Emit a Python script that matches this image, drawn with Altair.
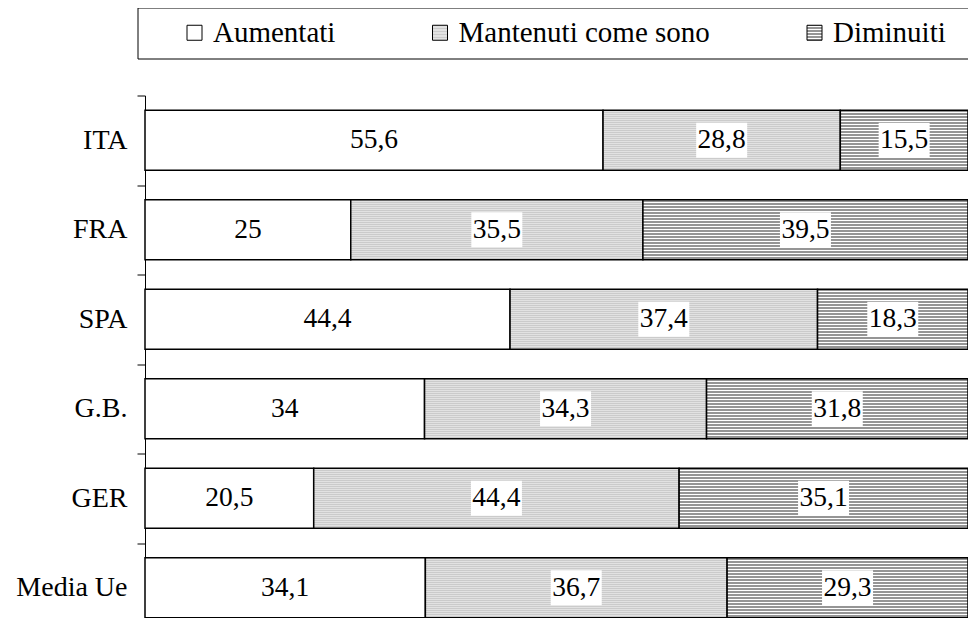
import altair as alt
import pandas as pd

countries = ["ITA", "FRA", "SPA", "G.B.", "GER", "Media Ue"]
categories = ["Aumentati", "Mantenuti come sono", "Diminuiti"]
aumentati = [55.6, 25, 44.4, 34, 20.5, 34.1]
mantenuti = [28.8, 35.5, 37.4, 34.3, 44.4, 36.7]
diminuiti = [15.5, 39.5, 18.3, 31.8, 35.1, 29.3]

rows = []
for i, c in enumerate(countries):
    for j, (cat, vals) in enumerate(zip(categories, [aumentati, mantenuti, diminuiti])):
        v = vals[i]
        rows.append({"paese": c, "risposta": cat, "ord": j, "valore": v,
                     "etichetta": f"{v:g}".replace(".", ",")})
df = pd.DataFrame(rows)


def stripes(periods, frac, c1, c2):
    stops = []
    for k in range(periods):
        a = k / periods
        b = (k + frac) / periods
        e = (k + 1) / periods
        stops += [f"{{offset:{a:.5f},color:'{c1}'}}", f"{{offset:{b:.5f},color:'{c1}'}}",
                  f"{{offset:{b:.5f},color:'{c2}'}}", f"{{offset:{e:.5f},color:'{c2}'}}"]
    return alt.ExprRef("{gradient:'linear',x1:0,y1:0,x2:0,y2:1,stops:[" + ",".join(stops) + "]}")


fill_range = ["#ffffff", stripes(30, 0.5, "#cbcbcb", "#e2e2e2"), stripes(20, 0.66, "#959595", "#ffffff")]

FONT = "Times New Roman, Liberation Serif, serif"

y = alt.Y("paese:N", sort=countries, title=None,
          scale=alt.Scale(range=[0, 537], paddingInner=0, paddingOuter=0),
          axis=alt.Axis(tickBand="extent", domainColor="black", tickColor="black", tickSize=8,
                        domainWidth=1, tickWidth=1, labelFont=FONT, labelFontSize=28,
                        labelColor="black", labelPadding=10, grid=False))

base = alt.Chart(df).transform_stack(
    stack="valore", groupby=["paese"], as_=["x0", "x1"], offset="normalize",
    sort=[alt.SortField("ord", "ascending")]
).transform_calculate(mid="(datum.x0 + datum.x1) / 2")

xs = alt.Scale(domain=[0, 1], nice=False, zero=True)

bars = base.mark_bar(size=60, stroke="black", strokeWidth=1.5).encode(
    x=alt.X("x0:Q", scale=xs, axis=None),
    x2="x1:Q",
    y=y,
    fill=alt.Fill("risposta:N", sort=categories,
                  scale=alt.Scale(domain=categories, range=fill_range),
                  legend=alt.Legend(orient="none", legendX=-7.5, legendY=-88,
                                    direction="horizontal", title=" ", titleOrient="right",
                                    titlePadding=90, titleFontSize=27,
                                    strokeColor="black", fillColor="white", padding=10.5,
                                    symbolType="square", symbolSize=225,
                                    symbolStrokeColor="black", symbolStrokeWidth=1,
                                    symbolOffset=32, labelFont=FONT, labelFontSize=29,
                                    labelColor="black", labelOffset=4, columnPadding=57.5,
                                    labelLimit=0)),
)

path = "M-1,-0.686L1,-0.686L1,0.686L-1,0.686Z"
boxes = base.transform_filter("datum.ord > 0").mark_point(
    shape=path, size=2601, filled=True, fill="white", opacity=1, strokeWidth=0
).encode(x=alt.X("mid:Q", scale=xs), y=y)

texts = base.mark_text(font=FONT, fontSize=27.5, color="black", align="center",
                       baseline="middle").encode(
    x=alt.X("mid:Q", scale=xs), y=y, text="etichetta:N")

chart = alt.layer(bars, boxes, texts).properties(
    width=823, height=522,
    autosize=alt.AutoSizeParams(type="none"),
    padding={"left": 137, "top": 87.5, "right": 0, "bottom": 0},
).configure_view(stroke=None)

chart.save("out.html", embed_options={"renderer": "svg", "actions": False})
